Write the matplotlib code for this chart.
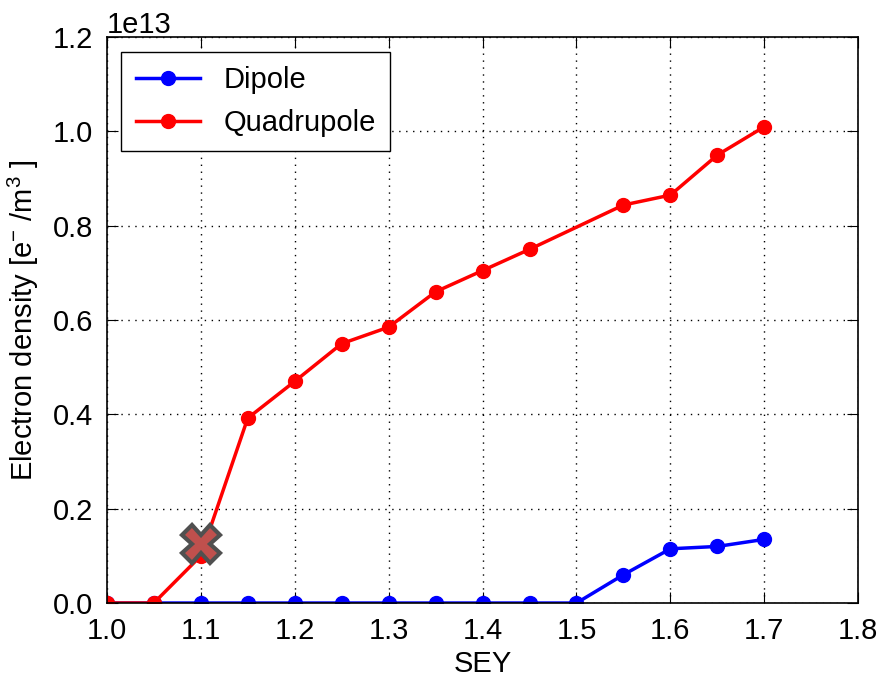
import matplotlib
matplotlib.use("Agg")
import matplotlib.pyplot as plt

# ---- data (values in units of 1e13 e-/m^3) ----
sey_dip = [1.0, 1.05, 1.1, 1.15, 1.2, 1.25, 1.3, 1.35, 1.4, 1.45, 1.5, 1.55, 1.6, 1.65, 1.7]
dens_dip = [0, 0, 0, 0, 0, 0, 0, 0, 0, 0, 0, 0.06, 0.115, 0.12, 0.135]

sey_quad = [1.0, 1.05, 1.1, 1.15, 1.2, 1.25, 1.3, 1.35, 1.4, 1.45, 1.55, 1.6, 1.65, 1.7]
dens_quad = [0, 0, 0.1, 0.392, 0.47, 0.55, 0.585, 0.66, 0.705, 0.75, 0.844, 0.865, 0.95, 1.01]

mark_x = [1.1]
mark_y = [0.125]
scale = 1e13

plt.rcParams["font.family"] = ["Liberation Sans", "DejaVu Sans"]
plt.rcParams["mathtext.fontset"] = "custom"
plt.rcParams["mathtext.rm"] = "Liberation Sans"
plt.rcParams["mathtext.it"] = "Liberation Sans"
plt.rcParams["font.size"] = 21

fig = plt.figure(figsize=(8.83, 6.81), dpi=100)
ax = fig.add_axes([0.121, 0.1145, 0.851, 0.831])

ax.plot(sey_dip, [v * scale for v in dens_dip], "b-", marker="o", lw=2.5, ms=10, label="Dipole")
ax.plot(sey_quad, [v * scale for v in dens_quad], "r-", marker="o", lw=2.5, ms=10, label="Quadrupole")
ax.plot(mark_x, [v * scale for v in mark_y], "X", ms=27, mfc="#c0504d",
        mec="#505050", mew=3, zorder=5)

ax.set_xlim(1.0, 1.8)
ax.set_ylim(0, 1.2e13)
ax.set_xlabel("SEY", fontsize=21, labelpad=4)
ax.set_ylabel("Electron density [e$^{-}$ /m$^3$ ]", fontsize=21, labelpad=8)
ax.grid(True, color="black", linestyle=(0, (1, 4)), linewidth=1)
ax.tick_params(direction="in", top=True, right=True, length=8, pad=10, labelsize=21)
ax.yaxis.get_offset_text().set_fontsize(21)
ax.legend(loc="upper left", fontsize=21, borderpad=0.5, handlelength=2.2,
          fancybox=False, edgecolor="black", framealpha=1, borderaxespad=0.5)
for s in ax.spines.values():
    s.set_linewidth(1.2)

fig.savefig("out.png", dpi=100)
